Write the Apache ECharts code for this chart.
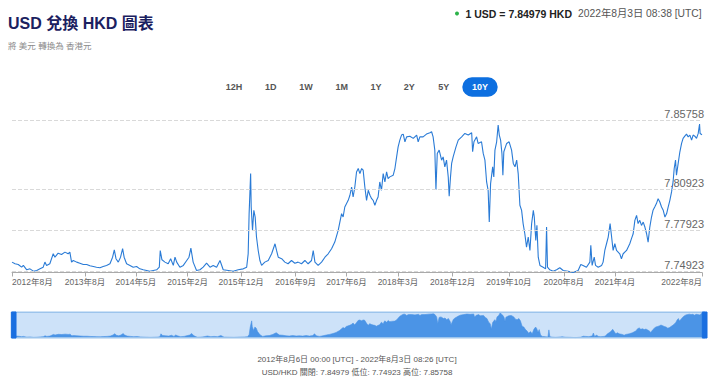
<!DOCTYPE html>
<html><head><meta charset="utf-8">
<script src="https://cdn.jsdelivr.net/npm/echarts@6/dist/echarts.min.js"></script>
<style>html,body{margin:0;padding:0;background:#fff}#c{width:720px;height:382px}</style>
</head><body><div id="c"></div>
<script>
const dates = [
'2012-08-06','2012-08-22','2012-09-08','2012-09-26','2012-10-05','2012-10-23','2012-11-09','2012-11-27','2012-12-15',
'2013-01-01','2013-01-18','2013-01-27','2013-02-05','2013-02-22','2013-03-12','2013-03-21','2013-04-07','2013-04-25','2013-05-13','2013-05-30','2013-06-08','2013-06-17','2013-06-26','2013-07-14','2013-07-31','2013-08-18','2013-09-05','2013-09-22','2013-10-10','2013-10-27','2013-11-14','2013-12-01','2013-12-19',
'2014-01-06','2014-01-20','2014-01-29','2014-02-07','2014-02-19','2014-03-03','2014-03-14','2014-03-22','2014-04-04','2014-04-22','2014-05-09','2014-05-27','2014-06-13','2014-07-01','2014-07-19','2014-08-05','2014-08-23','2014-09-10','2014-09-24','2014-09-29','2014-10-08','2014-10-24','2014-11-10','2014-11-23','2014-12-07','2014-12-16','2014-12-25',
'2015-01-11','2015-01-29','2015-02-16','2015-02-28','2015-03-10','2015-03-22','2015-04-09','2015-04-27','2015-05-14','2015-06-01','2015-06-19','2015-07-06','2015-07-24','2015-08-11','2015-08-28','2015-09-24','2015-10-20','2015-11-15','2015-12-12','2015-12-30',
'2016-01-07','2016-01-12','2016-01-20','2016-01-23','2016-01-30','2016-02-06','2016-02-13','2016-02-20','2016-02-29','2016-03-09','2016-03-18','2016-04-04','2016-04-22','2016-05-10','2016-05-28','2016-06-05','2016-06-14','2016-07-02','2016-07-19','2016-08-05','2016-08-23','2016-09-10','2016-09-27','2016-10-15','2016-11-02','2016-11-19','2016-12-07','2016-12-16','2016-12-25',
'2017-01-11','2017-01-29','2017-02-16','2017-03-05','2017-03-23','2017-04-09','2017-04-27','2017-05-15','2017-05-23','2017-06-01','2017-06-19','2017-06-28','2017-07-07','2017-07-15','2017-07-24','2017-08-02','2017-08-11','2017-08-20','2017-08-29','2017-09-06','2017-09-15','2017-09-24','2017-10-03','2017-10-12','2017-10-21','2017-10-29','2017-11-07','2017-11-16','2017-11-24','2017-12-03','2017-12-12','2017-12-21','2017-12-30',
'2018-01-08','2018-01-16','2018-01-25','2018-02-12','2018-02-21','2018-03-02','2018-03-10','2018-03-19','2018-03-28','2018-04-06','2018-04-15','2018-04-24','2018-05-11','2018-05-29','2018-06-16','2018-06-24','2018-07-03','2018-07-20','2018-08-07','2018-08-25','2018-09-03','2018-09-11','2018-09-20','2018-09-26','2018-10-03','2018-10-13','2018-10-26','2018-11-03','2018-11-12','2018-11-21','2018-11-30','2018-12-05','2018-12-12','2018-12-18','2018-12-26',
'2019-01-10','2019-01-22','2019-02-09','2019-02-26','2019-03-16','2019-04-03','2019-04-08','2019-04-15','2019-04-29','2019-05-07','2019-05-25','2019-06-03','2019-06-12','2019-06-21','2019-06-29','2019-07-05','2019-07-12','2019-07-23','2019-07-29','2019-08-04','2019-08-13','2019-08-21','2019-08-27','2019-09-03','2019-09-10','2019-09-15','2019-09-20','2019-10-05','2019-10-18','2019-10-31','2019-11-09','2019-11-18','2019-11-27','2019-12-05','2019-12-14','2019-12-23','2019-12-31',
'2020-01-09','2020-01-18','2020-01-27','2020-02-05','2020-02-14','2020-02-23','2020-02-28','2020-03-07','2020-03-13','2020-03-20','2020-03-29','2020-04-15','2020-04-28','2020-05-03','2020-05-08','2020-05-20','2020-06-07','2020-06-25','2020-07-12','2020-07-30','2020-08-25','2020-09-20','2020-10-17','2020-10-31','2020-11-12','2020-11-30','2020-12-18','2020-12-23','2020-12-30',
'2021-01-10','2021-01-17','2021-01-31','2021-02-18','2021-02-26','2021-03-07','2021-03-16','2021-03-25','2021-04-04','2021-04-12','2021-04-20','2021-04-29','2021-05-08','2021-05-25','2021-06-03','2021-06-12','2021-06-30','2021-07-17','2021-07-26','2021-08-04','2021-08-13','2021-08-22','2021-08-30','2021-09-08','2021-09-17','2021-09-26','2021-10-05','2021-10-14','2021-10-22','2021-10-31','2021-11-09','2021-11-17','2021-11-26','2021-12-05','2021-12-14','2021-12-23',
'2022-01-01','2022-01-10','2022-01-19','2022-01-28','2022-02-05','2022-02-14','2022-02-23','2022-03-03','2022-03-09','2022-03-16','2022-03-21','2022-03-30','2022-04-08','2022-04-17','2022-04-25','2022-05-04','2022-05-13','2022-05-22','2022-05-31','2022-06-09','2022-06-17','2022-06-26','2022-07-05','2022-07-14','2022-07-21','2022-07-24','2022-08-03'
];
const rates = [
7.7568,7.7556,7.7551,7.7531,7.7544,7.7512,7.7519,7.7502,7.7507,
7.7519,7.7531,7.7568,7.7544,7.7556,7.7629,7.7604,7.7633,7.7624,7.7641,7.7629,7.7641,7.7568,7.7580,7.7568,7.7560,7.7551,7.7551,7.7541,7.7536,7.7531,7.7527,7.7536,7.7544,
7.7556,7.7604,7.7658,7.7593,7.7568,7.7604,7.7666,7.7604,7.7556,7.7544,7.7531,7.7536,7.7519,7.7512,7.7507,7.7502,7.7507,7.7512,7.7531,7.7653,7.7585,7.7568,7.7556,7.7593,7.7544,7.7604,7.7568,
7.7531,7.7544,7.7580,7.7604,7.7670,7.7568,7.7507,7.7512,7.7531,7.7560,7.7531,7.7544,7.7531,7.7580,7.7512,7.7507,7.7502,7.7512,7.7519,7.7531,
7.7629,7.7922,7.8214,7.7970,7.7800,7.7946,7.7897,7.7751,7.7653,7.7580,7.7544,7.7568,7.7580,7.7629,7.7702,7.7653,7.7604,7.7593,7.7568,7.7556,7.7580,7.7560,7.7568,7.7556,7.7580,7.7556,7.7580,7.7653,7.7568,
7.7544,7.7568,7.7604,7.7629,7.7666,7.7714,7.7800,7.7922,7.7897,7.7970,7.8019,7.8056,7.8116,7.8043,7.8116,7.8226,7.8251,7.8214,7.8251,7.8239,7.8116,7.8019,7.8092,7.8056,7.8031,7.8019,7.7983,7.8019,7.8043,7.8153,7.8092,7.8214,7.8153,
7.8226,7.8178,7.8190,7.8202,7.8251,7.8336,7.8409,7.8458,7.8495,7.8502,7.8446,7.8482,7.8487,7.8471,7.8495,7.8446,7.8482,7.8482,7.8502,7.8512,7.8519,7.8482,7.8385,7.8097,7.8361,7.8385,7.8312,7.8336,7.8263,7.8312,7.8190,7.8048,7.8190,7.8288,7.8336,
7.8409,7.8458,7.8482,7.8507,7.8495,7.8512,7.8373,7.8446,7.8482,7.8434,7.8446,7.8361,7.8312,7.8153,7.8092,7.7860,7.8141,7.8263,7.8190,7.8385,7.8446,7.8568,7.8495,7.8458,7.8361,7.8202,7.8373,7.8434,7.8446,7.8385,7.8288,7.8263,7.8312,7.8214,7.7983,7.7946,7.7849,
7.7775,7.7677,7.7751,7.7653,7.7849,7.7946,7.7897,7.7726,7.7836,7.7604,7.7544,7.7531,7.7519,7.7824,7.7531,7.7512,7.7502,7.7512,7.7527,7.7507,7.7502,7.74923,7.7507,7.7551,7.7544,7.7531,7.7568,7.7690,7.7544,
7.7604,7.7544,7.7531,7.7544,7.7568,7.7653,7.7702,7.7751,7.7849,7.7751,7.7653,7.7702,7.7653,7.7629,7.7593,7.7629,7.7653,7.7702,7.7739,7.7775,7.7873,7.7909,7.7849,7.7873,7.7836,7.7860,7.7824,7.7775,7.7714,7.7824,7.7897,7.7946,7.7970,7.7995,7.8031,7.8007,
7.7970,7.7946,7.7897,7.7922,7.7970,7.8019,7.8080,7.8153,7.8251,7.8312,7.8202,7.8288,7.8373,7.8434,7.8471,7.8487,7.8502,7.8482,7.8495,7.8458,7.8495,7.8487,7.8471,7.8507,7.85758,7.8507,7.84979
];
const xTickDates = ['2012-08-06','2013-08-27','2014-05-23','2015-02-21','2015-12-01','2016-09-14','2017-06-10','2018-03-09','2018-12-23','2019-10-17','2020-08-02','2021-04-30','2022-08-03'];
const yTickValues = [7.74923, 7.77923, 7.80923, 7.85758];
const yMin = 7.74923, yMax = 7.86779;
const rangeButtons = ['12H','1D','1W','1M','1Y','2Y','5Y','10Y'];
const activeButton = '10Y';
const titleText = 'USD 兌換 HKD 圖表';
const subtitleText = '將 美元 轉換為 香港元';
const rateText = '1 USD = 7.84979 HKD';
const rateTimeText = '2022年8月3日 08:38 [UTC]';
const footer1 = '2012年8月6日 00:00 [UTC] - 2022年8月3日 08:26 [UTC]';
const footer2 = 'USD/HKD 關閉: 7.84979 低位: 7.74923 高位: 7.85758';

const ts = s => new Date(s + 'T00:00:00').getTime();
const seriesData = dates.map((d, i) => [ts(d), rates[i]]);
const xTicks = xTickDates.map(ts);
const xMin = seriesData[0][0], xMax = seriesData[seriesData.length-1][0];
const FONT = '"Liberation Sans", Arial, "Noto Sans CJK TC", sans-serif';

const btnX = [234, 270.7, 306, 341.7, 376, 409.3, 443.7, 480];
const graphic = [
  {type:'text', x:8, y:23, style:{text:titleText, fill:'#1b2160', fontSize:16, fontWeight:'bold', fontFamily:FONT, align:'left', verticalAlign:'middle'}},
  {type:'text', x:8, y:45.5, style:{text:subtitleText, fill:'#8a8a8a', fontSize:8.5, fontFamily:FONT, align:'left', verticalAlign:'middle'}},
  {type:'circle', shape:{cx:457, cy:13.5, r:2}, style:{fill:'#2db34a'}},
  {type:'text', x:572, y:13.5, style:{text:rateText, fill:'#222', fontSize:10.5, fontWeight:'bold', fontFamily:FONT, align:'right', verticalAlign:'middle'}},
  {type:'text', x:578, y:13.5, style:{text:rateTimeText, fill:'#555', fontSize:10.3, fontFamily:FONT, align:'left', verticalAlign:'middle'}},
  {type:'text', x:357, y:359, style:{text:footer1, fill:'#555', fontSize:8, fontFamily:FONT, align:'center', verticalAlign:'middle'}},
  {type:'text', x:357, y:372.5, style:{text:footer2, fill:'#555', fontSize:8, fontFamily:FONT, align:'center', verticalAlign:'middle'}}
];
rangeButtons.forEach((b, i) => {
  const active = b === activeButton;
  if (active) graphic.push({type:'rect', shape:{x:btnX[i]-17.7, y:77.3, width:35.4, height:19.4, r:9.7}, style:{fill:'#0d6fe0'}});
  graphic.push({type:'text', x:btnX[i], y:87, style:{text:b, fill: active ? '#fff' : '#555', fontSize:9, fontWeight:'bold', fontFamily:FONT, align:'center', verticalAlign:'middle'}});
});

const chart = echarts.init(document.getElementById('c'), null, {renderer:'svg'});
chart.setOption({
  animation:false,
  backgroundColor:'#fff',
  textStyle:{fontFamily:FONT},
  graphic: graphic,
  grid:[
    {left:12, right:18, top:110, height:162.5},
    {left:12, right:15, top:312, height:26, show:true, backgroundColor:'#cde2f9', borderColor:'#9cc4ec', borderWidth:1}
  ],
  xAxis:[
    {type:'value', gridIndex:0, min:xMin, max:xMax,
     axisLine:{lineStyle:{color:'#aaa'}},
     axisTick:{show:true, customValues:xTicks, length:4, lineStyle:{color:'#aaa'}},
     axisLabel:{customValues:xTicks, color:'#666', fontSize:8.5, margin:5, hideOverlap:false,
       alignMinLabel:'left', alignMaxLabel:'right',
       formatter: v => { const d = new Date(v); return d.getFullYear() + '年' + (d.getMonth()+1) + '月'; }},
     splitLine:{show:false}},
    {type:'value', gridIndex:1, min:xMin, max:xMax, show:false, splitLine:{show:false}}
  ],
  yAxis:[
    {type:'value', gridIndex:0, min:yMin, max:yMax, show:false, splitLine:{show:false}},
    {type:'value', gridIndex:1, min:7.7475, max:7.8595, show:false, splitLine:{show:false}}
  ],
  dataZoom:[{
    type:'slider', xAxisIndex:0, left:12, right:15, top:312, height:26, start:0, end:100,
    showDataShadow:false, showDetail:false, brushSelect:false, filterMode:'none',
    backgroundColor:'rgba(0,0,0,0)', fillerColor:'rgba(0,0,0,0)', borderColor:'#9cc4ec',
    handleIcon:'path://M0,0 H18 V100 H0 Z', handleSize:'100%',
    handleStyle:{color:'#1a6fe0', borderColor:'#1a6fe0'},
    moveHandleSize:0
  }],
  series:[
    {type:'line', xAxisIndex:0, yAxisIndex:0, data:seriesData, showSymbol:false, silent:true, clip:false,
     lineStyle:{color:'#2a7bd6', width:1.1},
     markLine:{silent:true, symbol:['none','none'],
       lineStyle:{type:'dashed', color:'#d9d9d9', width:1},
       label:{position:'insideEndTop', formatter:'{b}', color:'#666', fontSize:11, distance:[-2, 1]},
       data: yTickValues.map(v => ({yAxis:v, name:v.toFixed(5)}))}},
    {type:'line', xAxisIndex:1, yAxisIndex:1, data:seriesData, showSymbol:false, silent:true,
     lineStyle:{color:'#4b94e6', width:0.6}, areaStyle:{color:'#4b94e6', opacity:1}}
  ]
});
</script>
</body></html>
